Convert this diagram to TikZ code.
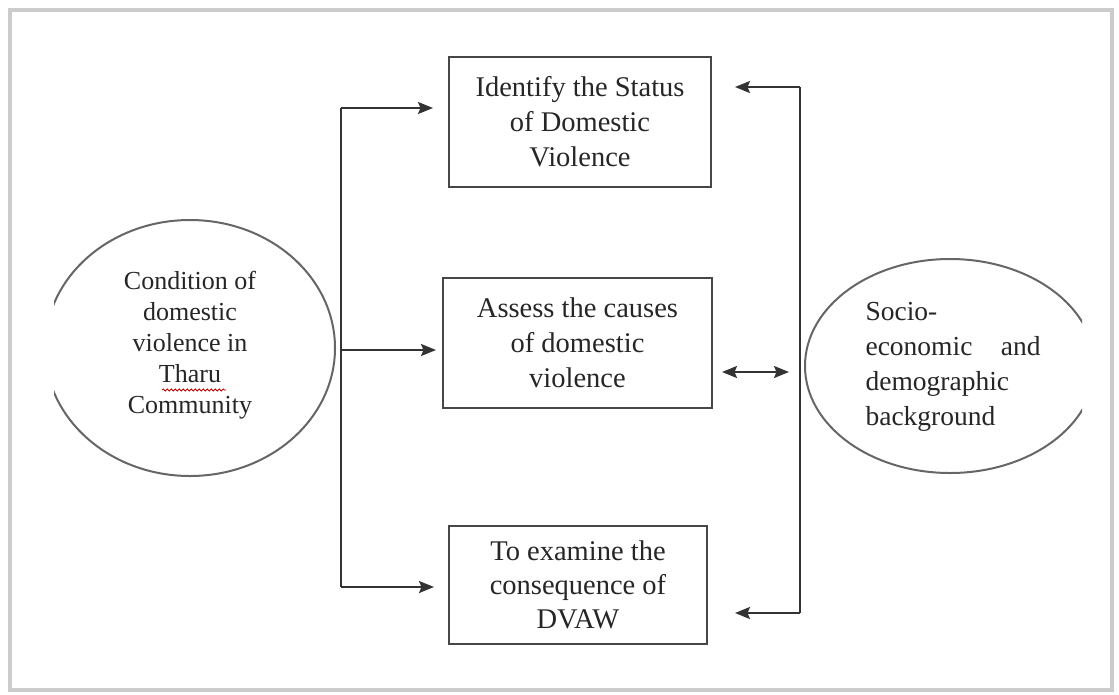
\documentclass[tikz,border=0pt]{standalone}
\usepackage{fontspec}
\setmainfont{Liberation Serif}
\usetikzlibrary{arrows.meta,shapes.geometric,decorations.pathmorphing}
\begin{document}
\begin{tikzpicture}[x=1pt,y=-1pt,
  box/.style={draw=black!72,line width=2.2pt,inner sep=0pt,align=center,text=black!85,font=\fontsize{28.5}{35}\selectfont},
  conn/.style={draw=black!80,line width=2pt},
  arr/.style={conn,-{Stealth[length=15pt,width=12pt,inset=2.5pt]}},
  dbl/.style={conn,{Stealth[length=15pt,width=12pt,inset=2.5pt]}-{Stealth[length=15pt,width=12pt,inset=2.5pt]}},
  oval/.style={draw=black!60,line width=2pt,ellipse,inner sep=0pt},
  frame/.style={draw=black!20,line width=3.5pt},
  ovtext/.style={text=black!85}]
\useasboundingbox (0,0) rectangle (1119,694);
\draw[frame] (10,10) rectangle (1112,690);

% boxes
\node[box,minimum width=262,minimum height=130] (b1) at (580,122) {Identify the Status\\of Domestic\\Violence};
\node[box,minimum width=269,minimum height=130] (b2) at (577.5,343) {Assess the causes\\of domestic\\violence};
\node[box,minimum width=258,minimum height=118,font=\fontsize{28.5}{34}\selectfont] (b3) at (578,585) {To examine the\\consequence of\\DVAW};

% left oval (clipped on the left)
\begin{scope}
\clip (54,0) rectangle (400,694);
\node[oval,minimum width=290,minimum height=256] (cond) at (190,348) {};
\end{scope}
\node[ovtext,font=\fontsize{26}{31}\selectfont,align=center] (condt) at (190,345) {Condition of\\domestic\\violence in\\Tharu\\Community};
\draw[red!75!black,line width=0.8pt,decorate,decoration={snake,amplitude=1pt,segment length=4pt}] (162,390) -- (226,390);

% right oval (clipped on the right)
\begin{scope}
\clip (700,0) rectangle (1082,694);
\node[oval,minimum width=290,minimum height=214] (soc) at (950,366) {};
\end{scope}
\node[ovtext,font=\fontsize{27.5}{35}\selectfont,align=left,anchor=west] (soct) at (862,367) {Socio-\\\makebox[175pt][s]{economic and}\\demographic\\background};

% left spine
\coordinate (sT) at (341,108);
\coordinate (sM) at (341,350);
\coordinate (sB) at (341,587);
\coordinate (a1) at (433,108);
\coordinate (a2) at (436,350);
\coordinate (a3) at (434,587);
\draw[conn] (sT) -- (sB);
\draw[arr] (sT) -- (a1);
\draw[arr] (sM) -- (a2);
\draw[arr] (sB) -- (a3);

% right spine
\coordinate (rT) at (800,87);
\coordinate (rB) at (800,613);
\coordinate (c1) at (735,87);
\coordinate (c3) at (735,613);
\draw[conn] (rT) -- (rB);
\draw[arr] (rT) -- (c1);
\draw[arr] (rB) -- (c3);
\coordinate (d1) at (722,372);
\coordinate (d2) at (789,372);
\draw[dbl] (d1) -- (d2);
\end{tikzpicture}
\end{document}
